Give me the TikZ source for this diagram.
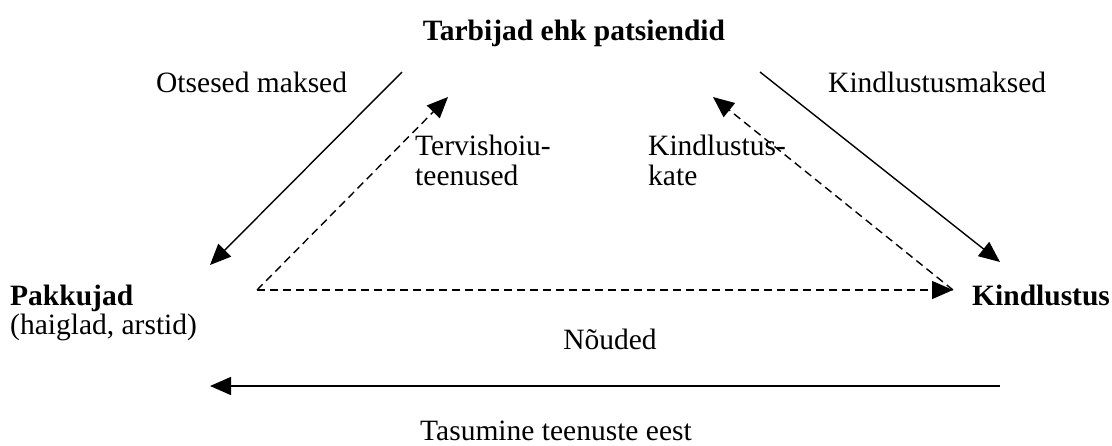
\documentclass[tikz,border=0pt]{standalone}
\usepackage{fontspec}
\setmainfont{Liberation Serif}
\usepackage{tikz}
\usetikzlibrary{positioning,arrows.meta}
\tikzset{
	label/.style = {
		font=\fontsize{29.5}{30}\selectfont, inner sep=0pt, anchor=base west, align=left
	}
}

\begin{document}
\begin{tikzpicture}[
		x=1pt, y=-1pt,
        flow/.style={line width=1.4pt, -{Triangle[length=21pt,width=18pt]}},
        dflow/.style={flow, dash pattern=on 8pt off 5pt},
        title/.style={label, font=\fontsize{29.5}{30}\selectfont\bfseries}
    ]
    %\draw[step=50,gray,very thin] (0,0) grid (1112,445);
    \useasboundingbox (0,0) rectangle (1112,445);

    \node[title, anchor=base] (tarbijad) at (574,40) {Tarbijad ehk patsiendid};
    \node[title] (pakkujad) at (10,305) {Pakkujad};
    \node[label] (haiglad) at (10,334) {(haiglad, arstid)};
    \node[title] (kindlustus) at (972,305) {Kindlustus};

    \node[label] (otsesed) at (156,92) {Otsesed maksed};
    \node[label] (kmaksed) at (828,92) {Kindlustusmaksed};
    \node[label] (teenused) at (415,185) {Tervishoiu-\\teenused};
    \node[label] (kate) at (648,185) {Kindlustus-\\kate};
    \node[label, anchor=base] (nouded) at (610,349) {Nõuded};
    \node[label, anchor=base] (tasumine) at (556,440) {Tasumine teenuste eest};

    \coordinate (t1) at (402,72);
    \coordinate (t2) at (448,97);
    \coordinate (t3) at (713,97);
    \coordinate (t4) at (760,72);
    \coordinate (p1) at (210,265);
    \coordinate (p2) at (257,290);
    \coordinate (p3) at (210,386);
    \coordinate (k1) at (1000,262);
    \coordinate (k2) at (953,290);
    \coordinate (k3) at (1000,386);

    \draw[flow] (t1) -- (p1);
    \draw[dflow] (p2) -- (t2);
    \draw[dflow] (p2) -- (k2);
    \draw[flow] (t4) -- (k1);
    \draw[dflow] (k2) -- (t3);
    \draw[flow] (k3) -- (p3);

\end{tikzpicture}
\end{document}
